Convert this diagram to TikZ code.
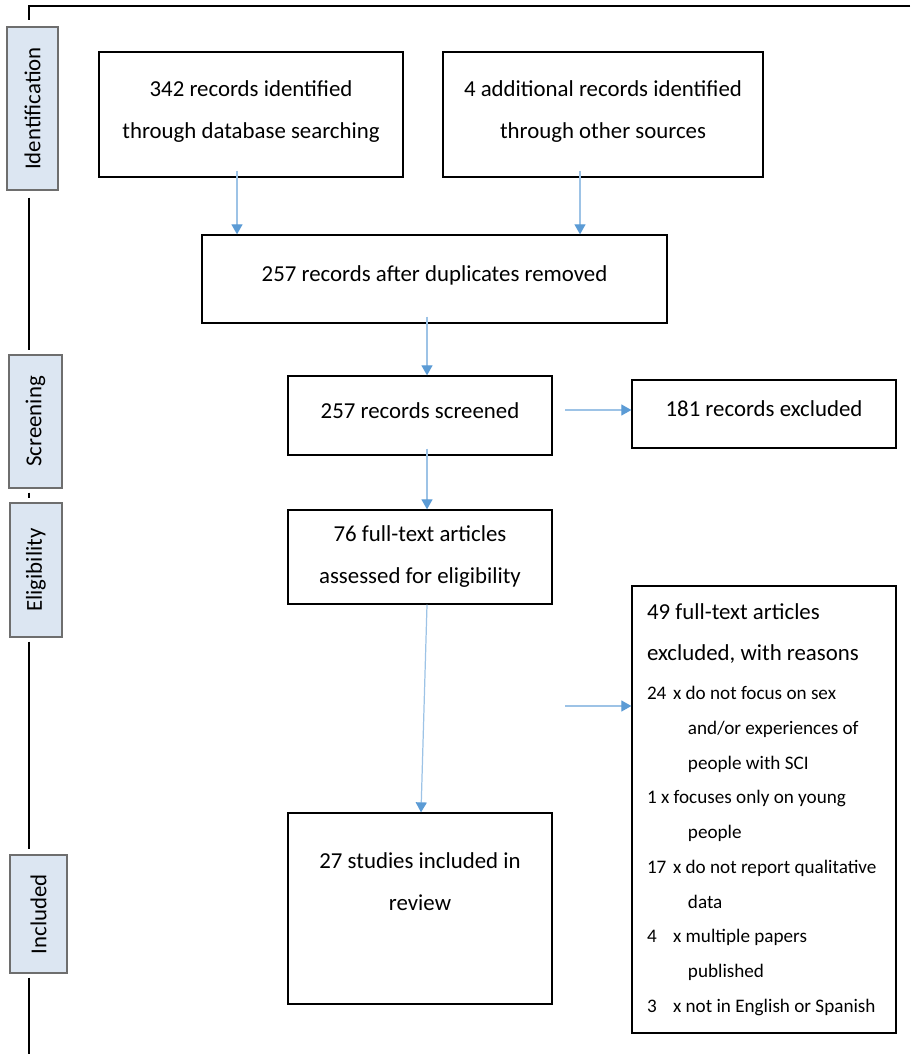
\documentclass[tikz,border=0pt]{standalone}
\usepackage{fontspec}
\setmainfont{Carlito}
\usetikzlibrary{arrows.meta,calc}
\definecolor{stageblue}{HTML}{DCE6F2}
\definecolor{stagegray}{HTML}{6E6E6E}
\definecolor{linkblue}{HTML}{9DC3E6}
\definecolor{headblue}{HTML}{5B9BD5}
\tikzset{
  box/.style={draw, line width=0.75pt, align=center, text depth=6pt, font=\fontsize{13}{23.9}\selectfont},
  listbox/.style={draw, line width=0.75pt, align=flush left, text width=4.68cm, inner xsep=0.3cm, font=\fontsize{10.9}{19.8}\selectfont},
  stage/.style={draw=stagegray, fill=stageblue, line width=0.8pt, rotate=90, font=\fontsize{13}{15}\selectfont},
  flow/.style={draw=linkblue, line width=0.7pt, -{Triangle[length=0.2cm, width=0.22cm, color=headblue]}},
  rule/.style={line width=0.6pt},
}
\begin{document}
\begin{tikzpicture}[x=0.02cm, y=-0.02cm]
  \useasboundingbox (0,0) rectangle (910,1054);
  \node[stage, minimum width=3.26cm, minimum height=1.02cm] (ident) at (32.5,108.5) {Identification};
  \node[stage, minimum width=2.66cm, minimum height=1.06cm] (scr) at (35.5,421.5) {Screening};
  \node[stage, minimum width=2.68cm, minimum height=1.04cm] (elig) at (36,570) {Eligibility};
  \node[stage, minimum width=2.36cm, minimum height=1.14cm] (incl) at (38.5,914) {Included};
  \coordinate (fr) at (29,6);
  \coordinate (fb) at (29,1054);
  \draw[rule] (910,6) -- (fr) -- ($(ident.east -| fr)+(0,-6)$);
  \draw[rule] ($(ident.west -| fr)+(0,7)$) -- ($(scr.east -| fr)+(0,-4)$);
  \draw[rule] ($(scr.west -| fr)+(0,4)$) -- ($(elig.east -| fr)+(0,-4)$);
  \draw[rule] ($(elig.west -| fr)+(0,4)$) -- ($(incl.east -| fr)+(0,-5)$);
  \draw[rule] ($(incl.west -| fr)+(0,4)$) -- (fb);
  \node[box, minimum width=6.08cm, minimum height=2.5cm] (dbs) at (251,114.5) {342 records identified\\through database searching};
  \node[box, minimum width=6.4cm, minimum height=2.5cm] (other) at (603,114.5) {4 additional records identified\\through other sources};
  \node[box, minimum width=9.3cm, minimum height=1.76cm] (dup) at (434.5,279) {257 records after duplicates removed};
  \node[box, minimum width=5.28cm, minimum height=1.58cm] (scrd) at (420,415.5) {257 records screened};
  \node[box, minimum width=5.28cm, minimum height=1.36cm] (excl) at (764,414) {181 records excluded};
  \node[box, minimum width=5.28cm, minimum height=1.88cm, text depth=2.6pt] (full) at (420,557) {76 full-text articles\\assessed for eligibility};
  \node[box, minimum width=5.28cm, minimum height=3.82cm, text depth=31pt] (incd) at (420,908.5) {27 studies included in\\review};
  \node[listbox, minimum width=5.28cm, minimum height=8.94cm] (reas) at (764,809.5) {%
    {\fontsize{13}{15}\selectfont 49 full-text articles}\\[4pt]
    {\fontsize{13}{15}\selectfont excluded, with reasons}\\[2.2pt]
    \makebox[14.8pt][l]{24}x do not focus on sex\\
    \hspace*{23.3pt}and/or experiences of\\
    \hspace*{23.3pt}people with SCI\\
    1 x focuses only on young\\
    \hspace*{23.3pt}people\\
    \makebox[14.8pt][l]{17}x do not report qualitative\\
    \hspace*{23.3pt}data\\
    \makebox[14.8pt][l]{4}x multiple papers\\
    \hspace*{23.3pt}published\\
    \makebox[14.8pt][l]{3}x not in English or Spanish};
  \coordinate (a1) at (237,0);
  \coordinate (a2) at (580,0);
  \coordinate (a3) at (427,0);
  \coordinate (a4) at (421,0);
  \coordinate (s1) at (565,410);
  \coordinate (s2) at (565,706);
  \draw[flow] ($(dbs.south -| a1)+(0,-7)$) -- (dup.north -| a1);
  \draw[flow] ($(other.south -| a2)+(0,-7)$) -- (dup.north -| a2);
  \draw[flow] ($(dup.south -| a3)+(0,-7)$) -- (scrd.north -| a3);
  \draw[flow] ($(scrd.south -| a3)+(0,-7)$) -- (full.north -| a3);
  \draw[flow] (full.south -| a3) -- (incd.north -| a4);
  \draw[flow] (s1) -- (s1 -| excl.west);
  \draw[flow] (s2) -- (s2 -| reas.west);
\end{tikzpicture}
\end{document}
